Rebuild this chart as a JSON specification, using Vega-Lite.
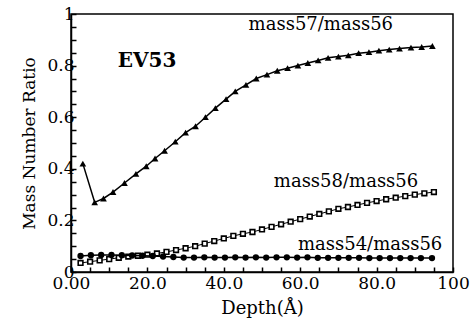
{
  "$schema": "https://vega.github.io/schema/vega-lite/v6.json",
  "autosize": {"type": "none"},
  "padding": {"left": 71, "top": 14, "right": 17, "bottom": 56},
  "width": 382,
  "height": 258,
  "background": "white",
  "config": {
    "view": {"stroke": "black", "strokeWidth": 1.5},
    "font": "DejaVu Serif"
  },
  "datasets": {
    "m57": [
      {"depth": 3.1, "ratio": 0.42}, {"depth": 6.2, "ratio": 0.27}, {"depth": 8.5, "ratio": 0.285},
      {"depth": 11, "ratio": 0.31}, {"depth": 14, "ratio": 0.345}, {"depth": 17, "ratio": 0.38},
      {"depth": 19.7, "ratio": 0.41}, {"depth": 22, "ratio": 0.44}, {"depth": 24.5, "ratio": 0.47},
      {"depth": 27.3, "ratio": 0.505}, {"depth": 30, "ratio": 0.54}, {"depth": 32.6, "ratio": 0.565},
      {"depth": 35.2, "ratio": 0.6}, {"depth": 37.8, "ratio": 0.635}, {"depth": 40.6, "ratio": 0.67},
      {"depth": 43, "ratio": 0.7}, {"depth": 45.8, "ratio": 0.725}, {"depth": 48.5, "ratio": 0.75},
      {"depth": 51.3, "ratio": 0.765}, {"depth": 54, "ratio": 0.78}, {"depth": 56.7, "ratio": 0.79},
      {"depth": 59.4, "ratio": 0.8}, {"depth": 62, "ratio": 0.81}, {"depth": 64.7, "ratio": 0.82},
      {"depth": 67.3, "ratio": 0.83}, {"depth": 70, "ratio": 0.835}, {"depth": 72.6, "ratio": 0.84},
      {"depth": 75.3, "ratio": 0.848}, {"depth": 78, "ratio": 0.852}, {"depth": 80.6, "ratio": 0.858},
      {"depth": 83.3, "ratio": 0.862}, {"depth": 86, "ratio": 0.866}, {"depth": 89, "ratio": 0.87},
      {"depth": 91.8, "ratio": 0.872}, {"depth": 94.6, "ratio": 0.876}
    ],
    "m58": [
      {"depth": 2.5, "ratio": 0.035}, {"depth": 5, "ratio": 0.04}, {"depth": 7.5, "ratio": 0.045},
      {"depth": 10, "ratio": 0.05}, {"depth": 12.5, "ratio": 0.055}, {"depth": 15, "ratio": 0.06},
      {"depth": 17.5, "ratio": 0.063}, {"depth": 20, "ratio": 0.067}, {"depth": 22.5, "ratio": 0.072},
      {"depth": 25, "ratio": 0.078}, {"depth": 27.5, "ratio": 0.085}, {"depth": 30, "ratio": 0.092},
      {"depth": 32.5, "ratio": 0.1}, {"depth": 35, "ratio": 0.11}, {"depth": 37.5, "ratio": 0.12},
      {"depth": 40, "ratio": 0.13}, {"depth": 42.5, "ratio": 0.14}, {"depth": 45, "ratio": 0.148},
      {"depth": 47.5, "ratio": 0.155}, {"depth": 50, "ratio": 0.165}, {"depth": 52.5, "ratio": 0.175},
      {"depth": 55, "ratio": 0.185}, {"depth": 57.5, "ratio": 0.195}, {"depth": 60, "ratio": 0.205},
      {"depth": 62.5, "ratio": 0.215}, {"depth": 65, "ratio": 0.225}, {"depth": 67.5, "ratio": 0.235},
      {"depth": 70, "ratio": 0.245}, {"depth": 72.5, "ratio": 0.252}, {"depth": 75, "ratio": 0.26},
      {"depth": 77.5, "ratio": 0.268}, {"depth": 80, "ratio": 0.275}, {"depth": 82.5, "ratio": 0.282},
      {"depth": 85, "ratio": 0.288}, {"depth": 87.5, "ratio": 0.294}, {"depth": 90, "ratio": 0.3},
      {"depth": 92.5, "ratio": 0.305}, {"depth": 95, "ratio": 0.31}
    ],
    "m54": [
      {"depth": 2.5, "ratio": 0.062}, {"depth": 5.2, "ratio": 0.065}, {"depth": 7.9, "ratio": 0.066},
      {"depth": 10.6, "ratio": 0.066}, {"depth": 13.3, "ratio": 0.065}, {"depth": 16, "ratio": 0.064},
      {"depth": 18.7, "ratio": 0.063}, {"depth": 21.4, "ratio": 0.062}, {"depth": 24.1, "ratio": 0.06},
      {"depth": 26.8, "ratio": 0.058}, {"depth": 29.5, "ratio": 0.056}, {"depth": 32.2, "ratio": 0.056},
      {"depth": 34.9, "ratio": 0.057}, {"depth": 37.6, "ratio": 0.056}, {"depth": 40.3, "ratio": 0.056},
      {"depth": 43, "ratio": 0.057}, {"depth": 45.7, "ratio": 0.056}, {"depth": 48.4, "ratio": 0.057},
      {"depth": 51.1, "ratio": 0.056}, {"depth": 53.8, "ratio": 0.057}, {"depth": 56.5, "ratio": 0.057},
      {"depth": 59.2, "ratio": 0.056}, {"depth": 61.9, "ratio": 0.057}, {"depth": 64.6, "ratio": 0.055},
      {"depth": 67.3, "ratio": 0.055}, {"depth": 70, "ratio": 0.055}, {"depth": 72.7, "ratio": 0.055},
      {"depth": 75.4, "ratio": 0.055}, {"depth": 78.1, "ratio": 0.054}, {"depth": 80.8, "ratio": 0.054},
      {"depth": 83.5, "ratio": 0.054}, {"depth": 86.2, "ratio": 0.054}, {"depth": 88.9, "ratio": 0.054},
      {"depth": 91.6, "ratio": 0.054}, {"depth": 94.5, "ratio": 0.054}
    ],
    "labels": [
      {"depth": 65.4, "ratio": 0.957, "label": "mass57/mass56"},
      {"depth": 72, "ratio": 0.35, "label": "mass58/mass56"},
      {"depth": 78.3, "ratio": 0.105, "label": "mass54/mass56"}
    ],
    "tag": [
      {"depth": 19.9, "ratio": 0.818, "label": "EV53"}
    ]
  },
  "encoding": {
    "x": {
      "field": "depth", "type": "quantitative",
      "scale": {"domain": [0, 100], "nice": false, "zero": false},
      "axis": {
        "title": "Depth(Å)",
        "values": [0,5,10,15,20,25,30,35,40,45,50,55,60,65,70,75,80,85,90,95,100],
        "labelExpr": "datum.value % 20 == 0 ? (datum.value == 0 ? '0.00' : (datum.value == 100 ? '100' : format(datum.value, '.1f'))) : ''",
        "tickSize": -5, "tickColor": "black", "tickWidth": 1.5,
        "domainColor": "black", "domainWidth": 1.5,
        "grid": false,
        "labelFont": "DejaVu Serif", "labelFontSize": 17, "labelColor": "black",
        "labelPadding": 8, "labelFlush": false, "labelOverlap": false,
        "titleFont": "DejaVu Serif", "titleFontSize": 18, "titleFontWeight": "normal", "titleColor": "black",
        "titlePadding": 8
      }
    },
    "y": {
      "field": "ratio", "type": "quantitative",
      "scale": {"domain": [0, 1], "nice": false},
      "axis": {
        "title": "Mass Number Ratio",
        "values": [0,0.05,0.1,0.15,0.2,0.25,0.3,0.35,0.4,0.45,0.5,0.55,0.6,0.65,0.7,0.75,0.8,0.85,0.9,0.95,1],
        "labelExpr": "abs(datum.value*5 - round(datum.value*5)) < 0.001 ? (datum.value == 0 ? '0' : (datum.value == 1 ? '1' : format(datum.value, '.1f'))) : ''",
        "tickSize": -5, "tickColor": "black", "tickWidth": 1.5,
        "domainColor": "black", "domainWidth": 1.5,
        "grid": false,
        "labelFont": "DejaVu Serif", "labelFontSize": 17, "labelColor": "black",
        "labelPadding": 2, "labelFlush": false, "labelOverlap": false,
        "titleFont": "DejaVu Serif", "titleFontSize": 17, "titleFontWeight": "normal", "titleColor": "black",
        "titlePadding": 8
      }
    }
  },
  "layer": [
    {"data": {"name": "m57"}, "mark": {"type": "line", "color": "black", "strokeWidth": 1.5}},
    {"data": {"name": "m57"}, "mark": {"type": "point", "shape": "triangle-up", "filled": true, "color": "black", "size": 45, "opacity": 1}},
    {"data": {"name": "m58"}, "mark": {"type": "line", "color": "black", "strokeWidth": 1}},
    {"data": {"name": "m58"}, "mark": {"type": "point", "shape": "square", "filled": false, "color": "black", "size": 22, "strokeWidth": 1.6, "fill": "white", "opacity": 1}},
    {"data": {"name": "m54"}, "mark": {"type": "line", "color": "black", "strokeWidth": 1.5}},
    {"data": {"name": "m54"}, "mark": {"type": "point", "shape": "circle", "filled": true, "color": "black", "size": 40, "opacity": 1}},
    {"data": {"name": "labels"}, "mark": {"type": "text", "font": "DejaVu Serif", "fontSize": 18, "color": "black", "align": "center", "baseline": "middle"}, "encoding": {"text": {"field": "label"}}},
    {"data": {"name": "tag"}, "mark": {"type": "text", "font": "DejaVu Serif", "fontSize": 20, "fontWeight": "bold", "color": "black", "align": "center", "baseline": "middle"}, "encoding": {"text": {"field": "label"}}}
  ]
}
